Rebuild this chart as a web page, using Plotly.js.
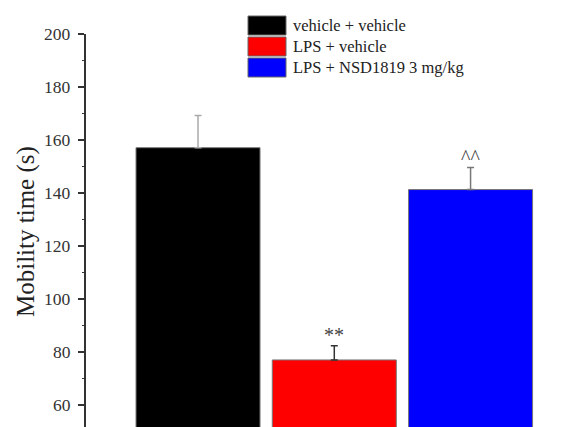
<!DOCTYPE html>
<html>
<head>
<meta charset="utf-8">
<script src="https://cdn.plot.ly/plotly-3.0.1.min.js"></script>
<style>html,body{margin:0;padding:0;background:#fff;}#chart{width:577px;height:427px;}</style>
</head>
<body>
<div id="chart"></div>
<script>
// Data
const groups = ["vehicle + vehicle", "LPS + vehicle", "LPS + NSD1819 3 mg/kg"];
const means = [157.1, 77.0, 141.3];
const sems = [12.1, 5.4, 8.3];
const marks = ["", "**", "^^"];
const colors = ["#000000", "#ff0000", "#0000ff"];
const errColors = ["#aaaaaa", "#333333", "#777777"];
const yTicks = [60, 80, 100, 120, 140, 160, 180, 200];
const yMinorTicks = [50, 70, 90, 110, 130, 150, 170, 190];
const yTitle = "Mobility time (s)";

const FONT = "Liberation Serif";

const traces = groups.map((g, i) => ({
  type: "bar",
  name: g,
  x: [g],
  y: [means[i]],
  width: 0.91,
  marker: {color: colors[i], line: {color: "#777777", width: 1}},
  error_y: {type: "data", array: [sems[i]], arrayminus: [0], symmetric: false,
            color: errColors[i], thickness: 1.5, width: 3.5},
  showlegend: false,
  hoverinfo: "skip"
}));

// plot area: left 86px, right 577px, top 34px, bottom 427px
const L = 86, W = 491, T = 34, H = 393;
const px = p => (p - L) / W;
const py = p => (T + H - p) / H;

const shapes = [];
const annotations = [];
groups.forEach((g, i) => {
  const top = 16 + i * 21;
  shapes.push({type: "rect", xref: "paper", yref: "paper",
    x0: px(248), x1: px(286), y0: py(top), y1: py(top + 19),
    fillcolor: colors[i], line: {color: "#666666", width: 1}});
  annotations.push({xref: "paper", yref: "paper", x: px(291), y: py(top + 9.5),
    xanchor: "left", yanchor: "middle", text: g, showarrow: false,
    font: {family: FONT, size: 16.5, color: "#222222"}});
  if (marks[i]) {
    annotations.push({xref: "x", yref: "y", x: g, y: means[i] + sems[i],
      xanchor: "center", yanchor: "bottom", yshift: -2, text: marks[i], showarrow: false,
      font: {family: FONT, size: 20, color: "#444444"}});
  }
});
// tick labels, placed on the y scale
yTicks.forEach(v => {
  annotations.push({xref: "paper", yref: "y", x: px(73), y: v, xanchor: "right", yanchor: "middle",
    text: String(v), showarrow: false, font: {family: FONT, size: 17.5, color: "#333333"}});
});
annotations.push({xref: "paper", yref: "paper", x: px(26), y: py(232), xanchor: "center", yanchor: "middle",
  textangle: -90, text: yTitle, showarrow: false, font: {family: FONT, size: 25, color: "#222222"}});

const layout = {
  width: 577, height: 427,
  margin: {l: L, r: 0, t: T, b: 0, pad: 0},
  paper_bgcolor: "#ffffff", plot_bgcolor: "#ffffff",
  barmode: "overlay",
  showlegend: false,
  xaxis: {type: "category", categoryarray: groups, range: [-0.822, 2.781],
          visible: false, showgrid: false, zeroline: false, fixedrange: true},
  yaxis: {range: [51.7, 200], tickvals: yTicks, showticklabels: false,
          showgrid: false, zeroline: false,
          showline: true, linecolor: "#333333", linewidth: 2,
          ticks: "outside", ticklen: 6, tickwidth: 1.5, tickcolor: "#333333"},
  yaxis2: {overlaying: "y", side: "left", range: [51.7, 200], tickvals: yMinorTicks,
          showgrid: false, zeroline: false, showline: false, showticklabels: false,
          ticks: "outside", ticklen: 3, tickwidth: 1.5, tickcolor: "#333333"},
  shapes: shapes,
  annotations: annotations
};

// invisible trace to activate the minor-tick axis
traces.push({type: "scatter", x: [groups[0]], y: [yMinorTicks[0]], yaxis: "y2",
  mode: "markers", marker: {opacity: 0}, showlegend: false, hoverinfo: "skip"});

Plotly.newPlot("chart", traces, layout, {staticPlot: true, displayModeBar: false});
</script>
</body>
</html>
